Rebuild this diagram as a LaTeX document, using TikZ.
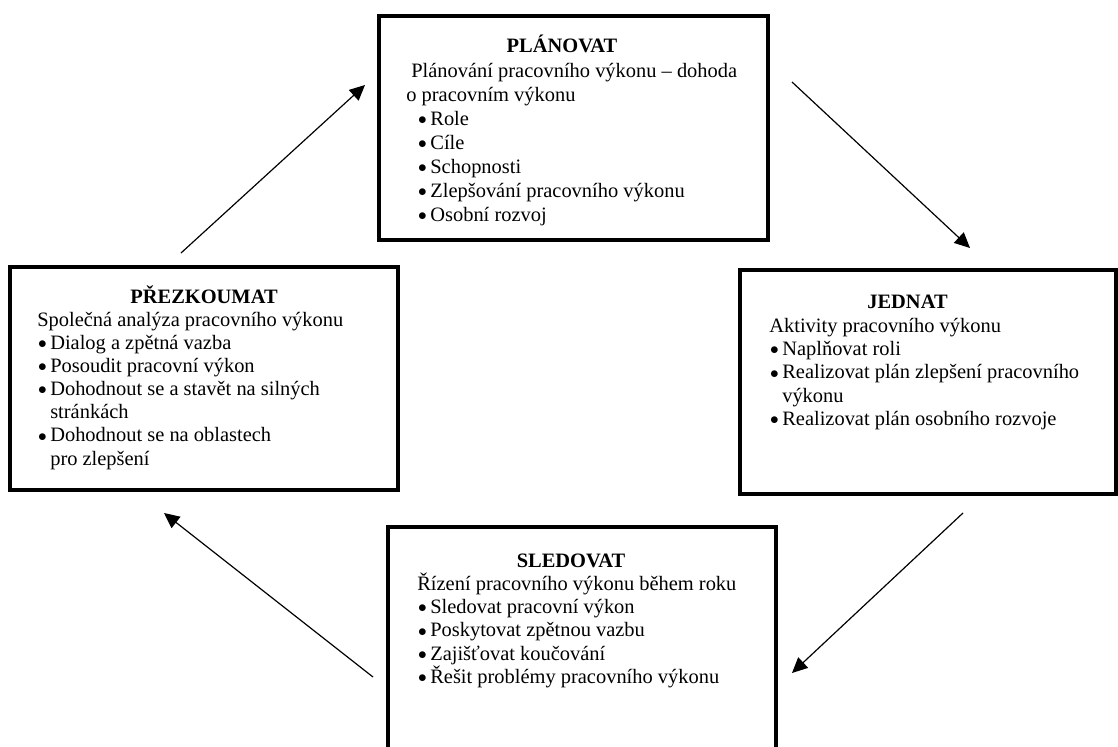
\documentclass[tikz,border=0pt]{standalone}
\usepackage{fontspec}
\setmainfont{Liberation Serif}
\usetikzlibrary{arrows.meta,fit}

% bullet with a fixed hanging width, and the matching indent for wrapped lines
\newcommand\itm{\makebox[7.6pt][l]{\hspace*{0.4pt}\raisebox{0.3pt}{\scalebox{0.85}{$\bullet$}}}}
\newcommand\hang{\hspace*{7.6pt}}
\newcommand\bodytext[2]{\parbox[t]{300pt}{\fontsize{12}{#1}\selectfont #2}}

\begin{document}
\begin{tikzpicture}[x=0.587pt,y=-0.587pt,
  box/.style={draw, line width=1.8pt, inner sep=0pt},
  title/.style={anchor=base, inner sep=0pt, font=\fontsize{12}{13.8}\selectfont\bfseries},
  body/.style={anchor=base west, inner sep=0pt},
  flow/.style={line width=0.7pt, -{Triangle[length=9pt,width=8.4pt]}}]

\useasboundingbox (0,0) rectangle (1118,746);

% the four phase boxes
\node[box, fit={(379,16) (768,240)}] (plan) {};
\node[box, fit={(10,267) (398,490)}] (review) {};
\node[box, fit={(740,270) (1116,494)}] (act) {};
\node[box, fit={(388,527) (776,770)}] (monitor) {};

% PLÁNOVAT
\node[title] (planT) at (562,53) {PLÁNOVAT};
\node[body] (planB) at (406,77) {\bodytext{14.1pt}{%
  \hspace*{2.9pt}Plánování pracovního výkonu – dohoda\\
  o pracovním výkonu\\
  \hspace*{6.5pt}\itm Role\\
  \hspace*{6.5pt}\itm Cíle\\
  \hspace*{6.5pt}\itm Schopnosti\\
  \hspace*{6.5pt}\itm Zlepšování pracovního výkonu\\
  \hspace*{6.5pt}\itm Osobní rozvoj}};

% PŘEZKOUMAT
\node[title] (reviewT) at (204,303) {PŘEZKOUMAT};
\node[body] (reviewB) at (37,326) {\bodytext{13.6pt}{%
  Společná analýza pracovního výkonu\\
  \itm Dialog a zpětná vazba\\
  \itm Posoudit pracovní výkon\\
  \itm Dohodnout se a stavět na silných\\
  \hang stránkách\\
  \itm Dohodnout se na oblastech\\
  \hang pro zlepšení}};

% JEDNAT
\node[title] (actT) at (907.5,308) {JEDNAT};
\node[body] (actB) at (769,332) {\bodytext{13.7pt}{%
  Aktivity pracovního výkonu\\
  \itm Naplňovat roli\\
  \itm Realizovat plán zlepšení pracovního\\
  \hang výkonu\\
  \itm Realizovat plán osobního rozvoje}};

% SLEDOVAT
\node[title] (monitorT) at (571,567) {SLEDOVAT};
\node[body] (monitorB) at (417,590) {\bodytext{13.7pt}{%
  Řízení pracovního výkonu během roku\\
  \itm Sledovat pracovní výkon\\
  \itm Poskytovat zpětnou vazbu\\
  \itm Zajišťovat koučování\\
  \itm Řešit problémy pracovního výkonu}};

% end points of the cycle arrows
\coordinate (r2p) at (181,253);
\coordinate (p2r) at (365,85);
\coordinate (p2a) at (792,82);
\coordinate (a2p) at (970,248);
\coordinate (a2m) at (963,513);
\coordinate (m2a) at (792,673);
\coordinate (m2r) at (373,677);
\coordinate (r2m) at (164,513);

\draw[flow] (r2p) -- (p2r);
\draw[flow] (p2a) -- (a2p);
\draw[flow] (a2m) -- (m2a);
\draw[flow] (m2r) -- (r2m);
\end{tikzpicture}
\end{document}
